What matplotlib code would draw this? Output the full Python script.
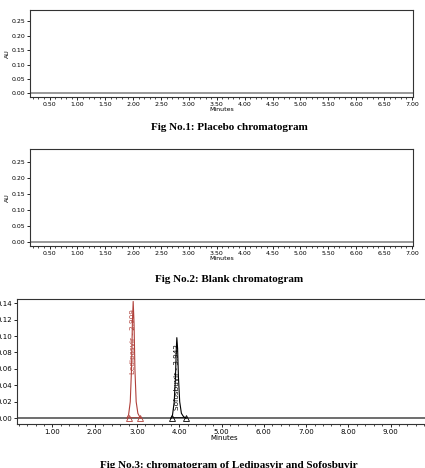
import matplotlib
matplotlib.use("Agg")
from matplotlib import pyplot as plt
from matplotlib.ticker import MultipleLocator, FormatStrFormatter
import numpy as np

# trace points
ledi_time = [2.76, 2.80, 2.84, 2.87, 2.89, 2.909, 2.93, 2.95, 2.98, 3.02, 3.06, 3.09]
ledi_au = [0.0, 0.004, 0.02, 0.06, 0.115, 0.142, 0.115, 0.06, 0.02, 0.006, 0.002, 0.0]
sofo_time = [3.80, 3.84, 3.88, 3.91, 3.93, 3.942, 3.96, 3.98, 4.01, 4.05, 4.10, 4.16]
sofo_au = [0.0, 0.004, 0.02, 0.05, 0.085, 0.098, 0.085, 0.05, 0.02, 0.006, 0.002, 0.0]
peak_names = ["Ledipasvir - 2.909", "Sofosbuvir - 3.942"]
peak_rt = [2.909, 3.942]
peak_bounds = [(2.80, 3.08), (3.82, 4.15)]
peak_colors = ["#b0403a", "black"]

titles = ["Fig No.1: Placebo chromatogram",
          "Fig No.2: Blank chromatogram",
          "Fig No.3: chromatogram of Ledipasvir and Sofosbuvir"]

W, H = 425, 468
fig = plt.figure(figsize=(W / 100, H / 100), dpi=100)


def px_axes(left, right, top, bottom):
    return fig.add_axes([left / W, 1 - bottom / H, (right - left) / W, (bottom - top) / H])


def style(ax, fs):
    ax.tick_params(which="both", direction="out", labelsize=fs, pad=1)
    ax.tick_params(which="major", length=2.5, width=0.6)
    ax.tick_params(which="minor", length=1.5, width=0.5)
    ax.yaxis.set_major_formatter(FormatStrFormatter("%.2f"))
    ax.xaxis.set_major_formatter(FormatStrFormatter("%.2f"))
    for s in ax.spines.values():
        s.set_linewidth(0.8)
        s.set_color("#333333")


# blank panels (fig 1 and 2)
for top, bottom in [(10, 97), (149, 246)]:
    ax = px_axes(30, 413, top, bottom)
    ax.set_xlim(0.15, 7.02)
    ax.set_ylim(-0.013, 0.29)
    ax.axhline(0, color="#888888", lw=1.2)
    ax.xaxis.set_major_locator(MultipleLocator(0.5))
    ax.xaxis.set_minor_locator(MultipleLocator(0.1))
    ax.yaxis.set_major_locator(MultipleLocator(0.05))
    style(ax, 4.5)
    ax.set_xlabel("Minutes", fontsize=4.5, labelpad=0)
    ax.set_ylabel("AU", fontsize=4.5, labelpad=1)

# fig 3
ax = px_axes(17, 432, 299, 424)
ax.set_xlim(0.16, 9.98)
ax.set_ylim(-0.007, 0.145)
ax.axhline(0, color="#555555", lw=1.2)
ax.plot(ledi_time, ledi_au, color=peak_colors[0], lw=0.8)
ax.plot(sofo_time, sofo_au, color=peak_colors[1], lw=0.8)
for name, rt, (a, b), c, yc in zip(peak_names, peak_rt, peak_bounds, peak_colors, [0.093, 0.05]):
    ax.plot([a, b], [0.002, 0.002], color=c, lw=0.5)
    ax.plot([a, b], [0.0, 0.0], ls="none", marker="^", ms=4, mfc="none", mec=c, mew=0.6)
    ax.text(rt, yc, name, rotation=90, ha="center", va="center", fontsize=5.2, color=c)
ax.xaxis.set_major_locator(MultipleLocator(1.0))
ax.xaxis.set_minor_locator(MultipleLocator(0.2))
ax.yaxis.set_major_locator(MultipleLocator(0.02))
style(ax, 5)
ax.set_xlabel("Minutes", fontsize=5, labelpad=0)

for t, y in zip(titles, [128, 280, 465]):
    fig.text(229 / W, 1 - y / H, t, ha="center", va="center",
             fontsize=8, fontweight="bold", family="Liberation Serif")

fig.savefig("out.png", dpi=100)
